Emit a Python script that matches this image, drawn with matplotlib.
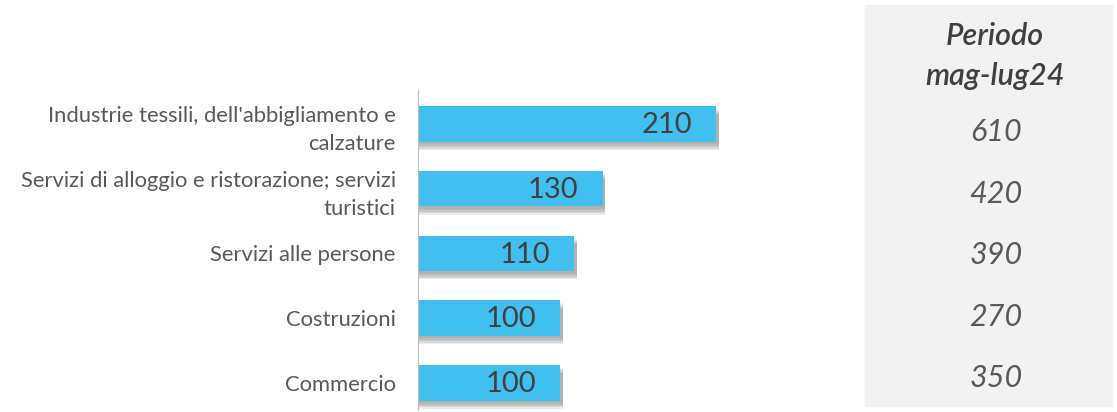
import matplotlib.pyplot as plt
from matplotlib.patches import Rectangle

categorie = ["Industrie tessili, dell'abbigliamento e\ncalzature",
             "Servizi di alloggio e ristorazione; servizi\nturistici",
             "Servizi alle persone",
             "Costruzioni",
             "Commercio"]
valori = [210, 130, 110, 100, 100]
periodo_titolo = "Periodo\nmag-lug24"
periodo_valori = [610, 420, 390, 270, 350]

W, H = 1117, 412
fig = plt.figure(figsize=(W / 100, H / 100), dpi=100)
plt.rcParams['font.family'] = ['Lato', 'DejaVu Sans']

# asse principale
ax = fig.add_axes([418 / W, 2 / H, 442 / W, 320 / H])
y = list(range(len(valori)))

# ombra delle barre (strati sovrapposti)
for k, a in enumerate([0.05, 0.06, 0.07, 0.08, 0.08]):
    off = 0.04 + 0.022 * k
    ax.barh([v + off for v in y], [x + 2 for x in valori], height=0.55,
            color='#000000', alpha=a, left=0, linewidth=0)
ax.barh(y, valori, height=0.55, color='#41c0f0', linewidth=0)

for i, v in enumerate(valori):
    ax.text(v - 17, i + 0.02, str(v), ha='right', va='center', fontsize=21,
            color='#404040')

ax.set_xlim(0, 442 / 1.42)
ax.set_ylim(4.42, -0.525)
ax.set_yticks(y)
ax.set_yticklabels(categorie, fontsize=15.8, color='#595959', linespacing=1.5)
ax.tick_params(axis='y', length=0, pad=16)
ax.set_xticks([])
for s in ['top', 'right', 'bottom']:
    ax.spines[s].set_visible(False)
ax.spines['left'].set_color('#bfbfbf')

# riquadro laterale
fig.patches.append(Rectangle((865 / W, 6 / H), 247 / W, 401 / H,
                             transform=fig.transFigure, color='#f2f2f2', zorder=0))
fig.text(995 / W, 1 - 56 / H, periodo_titolo, ha='center', va='center',
         fontsize=22, style='italic', fontweight='semibold', color='#404040',
         linespacing=1.5)
for i, v in enumerate(periodo_valori):
    yy = 132 + i * 61.5
    fig.text(996 / W, 1 - yy / H, str(v), ha='center', va='center',
             fontsize=22, style='italic', color='#595959')

fig.savefig('out.png', dpi=100)
